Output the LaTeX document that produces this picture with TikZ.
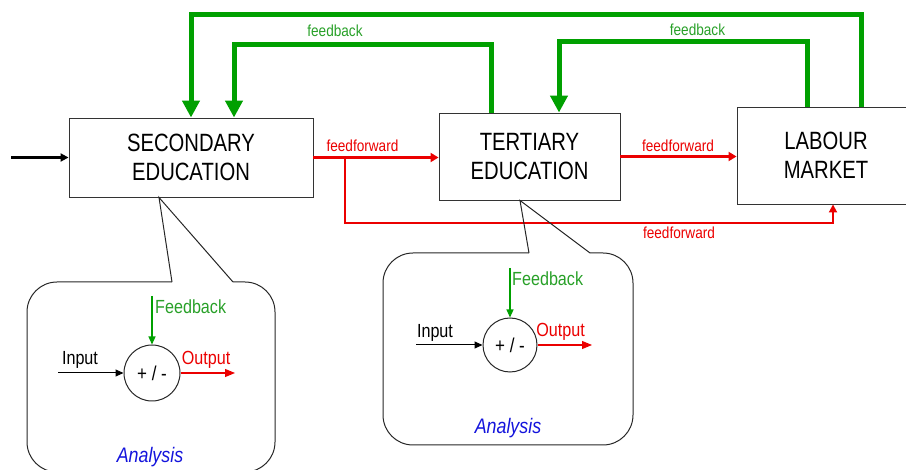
\documentclass[tikz,border=0pt]{standalone}
\usepackage{fontspec}
\setmainfont{Liberation Sans}[FakeStretch=0.85]
\newfontfamily\boxfont{Liberation Sans}[FakeStretch=0.81]
\usetikzlibrary{arrows.meta,calc}
\definecolor{fbgreen}{RGB}{0,160,0}
\definecolor{lblgreen}{RGB}{40,160,40}
\definecolor{ffred}{RGB}{235,0,0}
\definecolor{anblue}{RGB}{20,20,220}
\begin{document}
\begin{tikzpicture}[x=1pt,y=-1pt,
  box/.style={draw=black!80,line width=0.9pt,align=center,inner sep=0pt,font=\boxfont\fontsize{25}{29}\selectfont},
  gfb/.style={draw=fbgreen,line width=5pt,-{Triangle[width=17pt,length=17pt]}},
  ffa/.style={draw=ffred,line width=2.6pt,-{Triangle[width=9pt,length=8pt]}},
  ffb/.style={draw=ffred,line width=1.8pt,-{Triangle[width=8pt,length=8pt]}},
  fblbl/.style={text=lblgreen,inner sep=0pt,font=\fontsize{16}{18}\selectfont},
  fflbl/.style={text=ffred,inner sep=0pt,font=\fontsize{16}{18}\selectfont},
  callout/.style={draw=black!85,line width=1pt},
  sumnode/.style={circle,draw=black!85,line width=1pt,minimum size=#1,inner sep=0pt,font=\fontsize{20}{22}\selectfont},
  inarr/.style={draw=black,line width=1pt,-{Triangle[width=7pt,length=8pt]}},
  fbarr/.style={draw=fbgreen,line width=1.1pt,-{Triangle[width=7pt,length=8pt]}},
  outarr/.style={draw=ffred,line width=1.1pt,-{Triangle[width=8pt,length=10pt]}},
  smlbl/.style={inner sep=0pt,font=\fontsize{19}{21}\selectfont},
  anlbl/.style={text=anblue,inner sep=0pt,font=\fontsize{21}{23}\selectfont\itshape}
]
\useasboundingbox (0,0) rectangle (906,470);

% main boxes
\node[box,minimum width=244pt,minimum height=79pt] (sec) at (191,157.5) {SECONDARY\\EDUCATION};
\node[box,minimum width=181pt,minimum height=87pt] (ter) at (529.5,156.5) {TERTIARY\\EDUCATION};
\node[box,minimum width=178pt,minimum height=97pt] (lab) at (826,155.5) {LABOUR\\MARKET};

% input arrow
\coordinate (inp) at (11,157.5);
\draw[draw=black,line width=2.4pt,-{Triangle[width=8pt,length=8pt]}] (inp) -- (sec.west);

% feedback loops
\coordinate (o1) at (861,15);
\coordinate (i1) at (491,45);
\coordinate (i2) at (807,42);
\draw[gfb] (o1 |- lab.north) -- (o1) -| (sec.north);
\draw[gfb] (i1 |- ter.north) -- (i1) -| ($(sec.north)+(43,0)$);
\draw[gfb] (i2 |- lab.north) -- (i2) -| ($(ter.north)+(29.5,0)$);
\node[fblbl] (fbl1) at (335,31) {feedback};
\node[fblbl] (fbl2) at (697.5,29.5) {feedback};

% feedforward
\draw[ffa] (sec.east) -- (sec.east -| ter.west);
\draw[ffa] (ter.east) -- (ter.east -| lab.west);
\coordinate (br) at (345,223);
\draw[ffb] (br |- sec.east) -- (br) -| ($(lab.south)+(7,0)$);
\node[fflbl] (ffl1) at (362.5,145.5) {feedforward};
\node[fflbl] (ffl2) at (678,145.5) {feedforward};
\node[fflbl] (ffl3) at (679,233) {feedforward};

% callout 1
\coordinate (ap1) at ($(sec.south)+(-32,0)$);
\draw[callout,rounded corners=30pt] (233,282) -- (275,282) -- (275,472) -- (27,472) -- (27,282) -- (172,282);
\draw[callout] (172,282) -- (ap1) -- (233,282);
\node[sumnode=56pt] (c1) at (152,373) {+ / -};
\coordinate (in1) at (58,373);
\coordinate (fb1) at (152,296);
\coordinate (out1) at (235,373);
\draw[inarr] (in1) -- (c1.west);
\draw[fbarr] (fb1) -- (c1.north);
\draw[outarr] (c1.east) -- (out1);
\node[smlbl] (inl1) at (80,360) {Input};
\node[smlbl,text=lblgreen,anchor=west] (fbt1) at (155,306.5) {Feedback};
\node[smlbl,text=ffred] (outl1) at (206,360) {Output};
\node[anlbl] (an1) at (150,457) {Analysis};

% callout 2
\coordinate (ap2) at ($(ter.south)+(-9.5,0)$);
\draw[callout,rounded corners=30pt] (590,253) -- (633,253) -- (633,445) -- (383,445) -- (383,253) -- (529,253);
\draw[callout] (529,253) -- (ap2) -- (590,253);
\node[sumnode=54pt] (c2) at (510,345) {+ / -};
\coordinate (in2) at (416,345);
\coordinate (fb2) at (510,268);
\coordinate (out2) at (592,345);
\draw[inarr] (in2) -- (c2.west);
\draw[fbarr] (fb2) -- (c2.north);
\draw[outarr] (c2.east) -- (out2);
\node[smlbl] (inl2) at (435,333) {Input};
\node[smlbl,text=lblgreen,anchor=west] (fbt2) at (512,278.5) {Feedback};
\node[smlbl,text=ffred] (outl2) at (560.5,332) {Output};
\node[anlbl] (an2) at (508,428) {Analysis};
\end{tikzpicture}
\end{document}
